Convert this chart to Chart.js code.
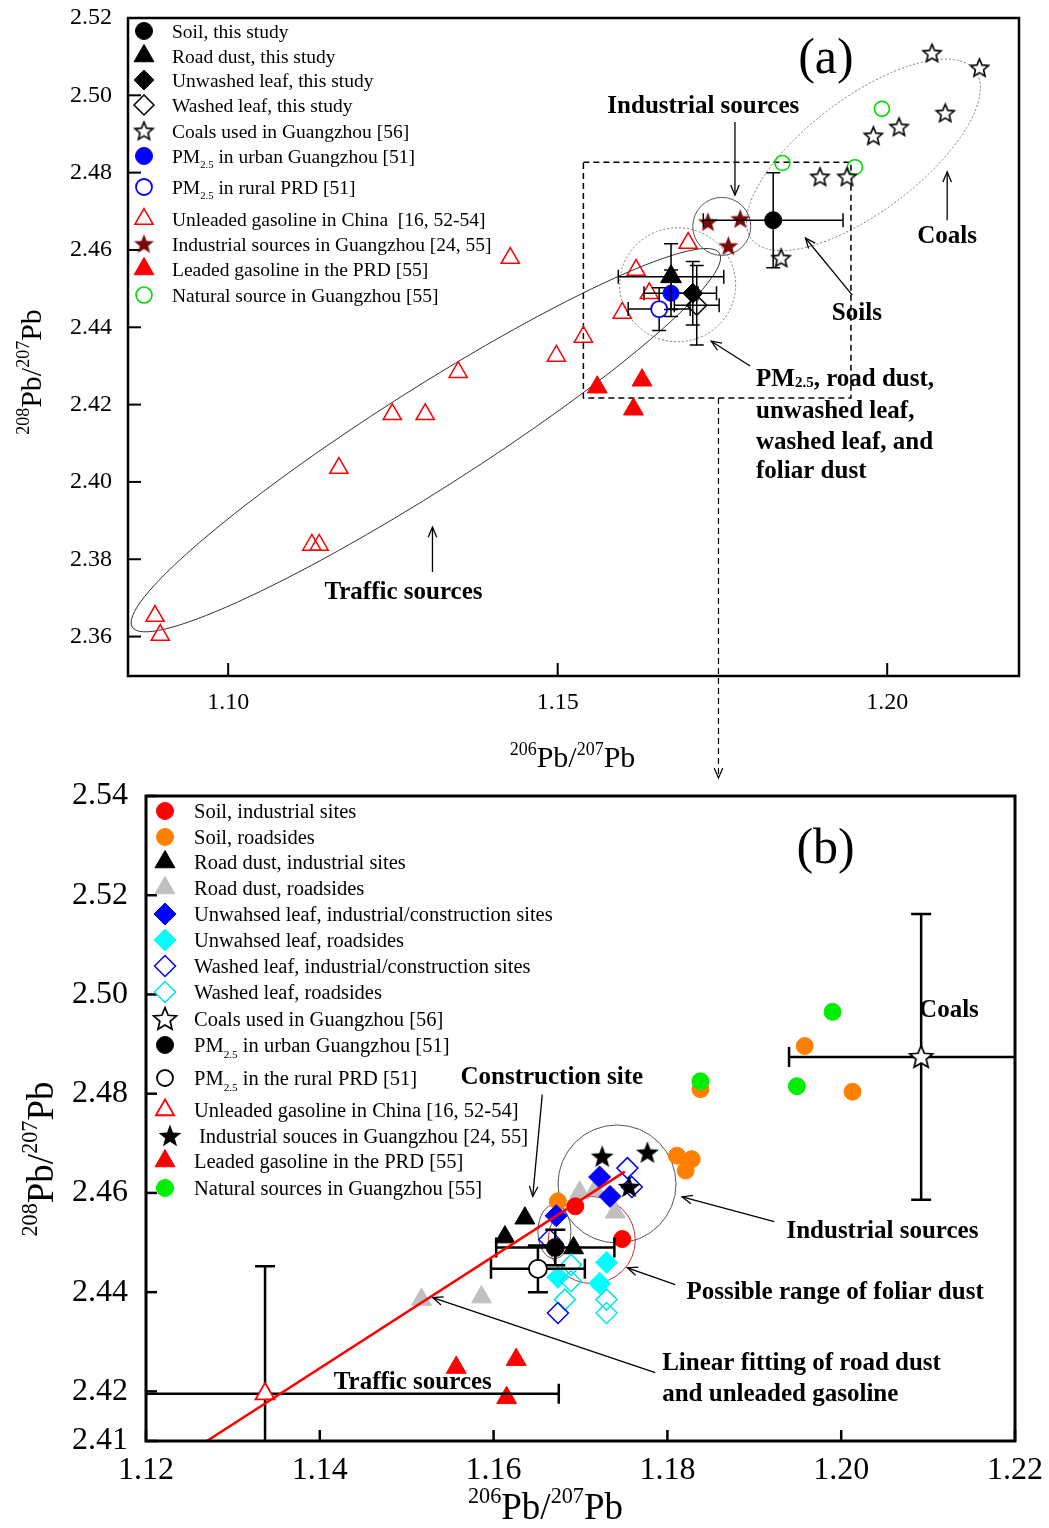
<!DOCTYPE html>
<html>
<head>
<meta charset="utf-8">
<script src="https://cdn.jsdelivr.net/npm/chart.js@4/dist/chart.umd.min.js"></script>
<style>
  body { margin: 0; background: #fff; }
  #wrap { position: relative; width: 1049px; height: 1528px; background: #fff; }
  canvas { position: absolute; left: 0; }
  #chartA { top: 0; }
  #chartB { top: 780px; }
</style>
</head>
<body>
<div id="wrap">
  <canvas id="chartA" width="1049" height="780"></canvas>
  <canvas id="chartB" width="1049" height="748"></canvas>
</div>
<script>
const SERIF = '"Liberation Serif", "Times New Roman", Times, serif';

// ----------------------- panel (a) data ----------------------- //
const aXTicks = [1.10, 1.15, 1.20];
const aYTicks = [2.36, 2.38, 2.40, 2.42, 2.44, 2.46, 2.48, 2.50, 2.52];

// [206Pb/207Pb, 208Pb/207Pb]  and errors [x, y]
const aSoil = [[1.1827, 2.4677]];
const aSoilErr = [[0.0106, 0.0123]];
const aRoadDust = [[1.1672, 2.4531]];
const aRoadDustErr = [[0.0080, 0.0085]];
const aUnwashed = [[1.1705, 2.4488]];
const aUnwashedErr = [[0.0036, 0.0082]];
const aWashed = [[1.1711, 2.4457]];
const aWashedErr = [[0.0034, 0.0103]];
const aPmUrban = [[1.1672, 2.4488]];
const aPmUrbanErr = [[0.0041, 0.0060]];
const aPmRural = [[1.1654, 2.4447]];
const aPmRuralErr = [[0.0047, 0.0055]];
const aCoals = [[1.2068, 2.5109], [1.2140, 2.5071], [1.2088, 2.4954], [1.2018, 2.4918],
  [1.1979, 2.4895], [1.1898, 2.4789], [1.1939, 2.4789], [1.1839, 2.4579]];
const aUnleaded = [[1.0889, 2.3653], [1.0897, 2.3604], [1.1127, 2.3837], [1.1138, 2.3837],
  [1.1168, 2.4036], [1.1249, 2.4175], [1.1299, 2.4175], [1.1349, 2.4284], [1.1428, 2.4579],
  [1.1498, 2.4326], [1.1539, 2.4375], [1.1598, 2.4437], [1.1619, 2.4548], [1.1639, 2.4488],
  [1.1698, 2.4618]];
const aIndustrial = [[1.1728, 2.4672], [1.1777, 2.4680], [1.1759, 2.4610]];
const aLeaded = [[1.1560, 2.4245], [1.1628, 2.4263], [1.1615, 2.4188]];
const aNatural = [[1.1992, 2.4965], [1.1841, 2.4825], [1.1951, 2.4814]];

// ----------------------- panel (b) data ----------------------- //
const bXTicks = [1.12, 1.14, 1.16, 1.18, 1.20, 1.22];
const bYTicks = [2.41, 2.42, 2.44, 2.46, 2.48, 2.50, 2.52, 2.54];

const bSoilInd = [[1.1694, 2.4573], [1.1748, 2.4507]];
const bSoilRoad = [[1.1674, 2.4583], [1.1811, 2.4675], [1.1828, 2.4668], [1.1821, 2.4645],
  [1.1838, 2.4809], [1.1958, 2.4896], [1.2013, 2.4804]];
const bRoadInd = [[1.1636, 2.4549], [1.1613, 2.4511], [1.1692, 2.4489]];
const bRoadRoad = [[1.1517, 2.4385], [1.1586, 2.4390], [1.1699, 2.4601], [1.1717, 2.4606], [1.1740, 2.4561]];
const bUnwashedInd = [[1.1672, 2.4554], [1.1722, 2.4632], [1.1734, 2.4593]];
const bUnwashedRoad = [[1.1730, 2.4460], [1.1674, 2.4430], [1.1722, 2.4418]];
const bWashedInd = [[1.1754, 2.4650], [1.1759, 2.4612], [1.1664, 2.4506], [1.1674, 2.4358]];
const bWashedRoad = [[1.1689, 2.4455], [1.1689, 2.4422], [1.1682, 2.4385], [1.1730, 2.4385], [1.1730, 2.4358]];
const bCoalMean = [[1.2092, 2.4874]];
const bCoalErr = [[0.0152, 0.0288]];
const bPmUrban = [[1.1671, 2.4490]];
const bPmUrbanErr = [[0.0068, 0.0036]];
const bPmRural = [[1.1651, 2.4447]];
const bPmRuralErr = [[0.0054, 0.0047]];
const bUnleadedMean = [[1.1337, 2.4195]];
const bUnleadedErr = [[0.0338, 0.0257]];
const bIndustrial = [[1.1725, 2.4673], [1.1777, 2.4681], [1.1756, 2.4612]];
const bLeaded = [[1.1557, 2.4248], [1.1626, 2.4264], [1.1615, 2.4187]];
const bNatural = [[1.1838, 2.4825], [1.1949, 2.4815], [1.1990, 2.4965]];
const bFitLine = [[1.1270, 2.4100], [1.1751, 2.4643]];

// ----------------------- helpers ----------------------- //
function pts(arr) { return arr.map(p => ({ x: p[0], y: p[1] })); }

// five pointed star as a point image
function starImage(r, fill, stroke, lw, inner) {
  const s = Math.ceil(r * 2 + lw * 2 + 2);
  const c = document.createElement('canvas');
  c.width = s; c.height = s;
  const g = c.getContext('2d');
  g.beginPath();
  for (let i = 0; i < 10; i++) {
    const rr = i % 2 ? r * inner : r;
    const ang = -Math.PI / 2 + i * Math.PI / 5;
    g.lineTo(s / 2 + rr * Math.cos(ang), s / 2 + 0.6 + rr * Math.sin(ang));
  }
  g.closePath();
  if (fill) { g.fillStyle = fill; g.fill(); }
  if (stroke) { g.strokeStyle = stroke; g.lineWidth = lw; g.lineJoin = 'miter'; g.stroke(); }
  return c;
}

function marks(label, arr, style, errors) {
  const d = {
    label: label,
    data: pts(arr),
    showLine: false,
    pointStyle: style.shape,
    pointRadius: style.r,
    pointHoverRadius: style.r,
    pointBackgroundColor: style.fill,
    pointBorderColor: style.stroke,
    pointBorderWidth: style.lw,
    backgroundColor: style.fill,
    borderColor: style.stroke
  };
  if (errors) d.errors = errors;
  return d;
}

function segsOf(label) {
  const i = label.indexOf('PM2.5');
  if (i < 0) return [label];
  return [label.slice(0, i) + 'PM', { sub: '2.5' }, label.slice(i + 5)];
}

function drawRich(ctx, segs, x, y, size, bold, align) {
  const w = bold ? 'bold ' : '';
  const parts = segs.map(s => {
    if (typeof s === 'string') return { t: s, f: size, dy: 0 };
    if (s.sub) return { t: s.sub, f: size * 0.55, dy: size * 0.3 };
    if (s.sup) return { t: s.sup, f: size * 0.6, dy: -size * 0.42 };
    return { t: s.small, f: size * 0.6, dy: size * 0.04 };
  });
  ctx.save();
  ctx.fillStyle = '#000';
  ctx.textBaseline = 'alphabetic';
  ctx.textAlign = 'left';
  let total = 0;
  parts.forEach(p => { ctx.font = w + p.f + 'px ' + SERIF; p.w = ctx.measureText(p.t).width; total += p.w; });
  let cx = align === 'center' ? x - total / 2 : (align === 'right' ? x - total : x);
  const base = y + size * 0.34;
  parts.forEach(p => { ctx.font = w + p.f + 'px ' + SERIF; ctx.fillText(p.t, cx, base + p.dy); cx += p.w; });
  ctx.restore();
}

function drawArrow(ctx, x0, y0, x1, y1, lw, dash) {
  ctx.save();
  ctx.strokeStyle = '#000';
  ctx.lineWidth = lw;
  if (dash) ctx.setLineDash(dash);
  ctx.beginPath(); ctx.moveTo(x0, y0); ctx.lineTo(x1, y1); ctx.stroke();
  ctx.setLineDash([]);
  const ang = Math.atan2(y1 - y0, x1 - x0), L = 11, s = 0.4;
  ctx.beginPath();
  ctx.moveTo(x1 - L * Math.cos(ang - s), y1 - L * Math.sin(ang - s));
  ctx.lineTo(x1, y1);
  ctx.lineTo(x1 - L * Math.cos(ang + s), y1 - L * Math.sin(ang + s));
  ctx.stroke();
  ctx.restore();
}

function px(chart, x, y) {
  return [chart.scales.x.getPixelForValue(x), chart.scales.y.getPixelForValue(y)];
}

// everything that is not a data mark: frame, inward ticks, error bars, shapes, texts, legend
function makeDecor(cfg) {
  return {
    id: 'decor',
    beforeDatasetsDraw(chart) {
      const ctx = chart.ctx;
      (cfg.ellipses || []).forEach(e => {
        const [x, y] = px(chart, e.x, e.y);
        ctx.save();
        ctx.strokeStyle = e.color; ctx.lineWidth = e.lw;
        if (e.dash) ctx.setLineDash(e.dash);
        ctx.beginPath();
        ctx.ellipse(x, y, e.rx, e.ry, (e.rot || 0) * Math.PI / 180, 0, Math.PI * 2);
        ctx.stroke();
        ctx.restore();
      });
      (cfg.rects || []).forEach(r => {
        const [x0, y0] = px(chart, r.x0, r.y0), [x1, y1] = px(chart, r.x1, r.y1);
        ctx.save();
        ctx.strokeStyle = '#000'; ctx.lineWidth = r.lw; ctx.setLineDash(r.dash);
        ctx.strokeRect(x0, y0, x1 - x0, y1 - y0);
        ctx.restore();
      });
    },
    beforeDatasetDraw(chart, args) {
      const ds = chart.data.datasets[args.index];
      if (!ds.errors) return;
      const ctx = chart.ctx, a = chart.chartArea, cap = cfg.cap;
      ctx.save();
      ctx.beginPath(); ctx.rect(a.left, a.top, a.right - a.left, a.bottom - a.top); ctx.clip();
      ctx.strokeStyle = '#000'; ctx.lineWidth = cfg.errLw;
      ds.data.forEach((p, i) => {
        const ex = ds.errors[i][0], ey = ds.errors[i][1];
        const [x, y] = px(chart, p.x, p.y);
        const xl = chart.scales.x.getPixelForValue(p.x - ex), xr = chart.scales.x.getPixelForValue(p.x + ex);
        const yt = chart.scales.y.getPixelForValue(p.y + ey), yb = chart.scales.y.getPixelForValue(p.y - ey);
        ctx.beginPath();
        ctx.moveTo(xl, y); ctx.lineTo(xr, y);
        ctx.moveTo(xl, y - cap); ctx.lineTo(xl, y + cap);
        ctx.moveTo(xr, y - cap); ctx.lineTo(xr, y + cap);
        ctx.moveTo(x, yt); ctx.lineTo(x, yb);
        ctx.moveTo(x - cap, yt); ctx.lineTo(x + cap, yt);
        ctx.moveTo(x - cap, yb); ctx.lineTo(x + cap, yb);
        ctx.stroke();
      });
      ctx.restore();
    },
    afterDatasetsDraw(chart) {
      const ctx = chart.ctx, a = chart.chartArea;
      // inward tick marks
      ctx.save();
      ctx.strokeStyle = '#000'; ctx.lineWidth = cfg.tickLw;
      cfg.xTicks.forEach(v => {
        const x = chart.scales.x.getPixelForValue(v);
        ctx.beginPath(); ctx.moveTo(x, a.bottom); ctx.lineTo(x, a.bottom - cfg.tickLen); ctx.stroke();
      });
      cfg.yTicks.forEach(v => {
        const y = chart.scales.y.getPixelForValue(v);
        ctx.beginPath(); ctx.moveTo(a.left, y); ctx.lineTo(a.left + cfg.tickLen, y); ctx.stroke();
      });
      // frame
      ctx.lineWidth = cfg.frameLw;
      ctx.strokeRect(a.left, a.top, a.right - a.left, a.bottom - a.top);
      ctx.restore();

      (cfg.arrows || []).forEach(r => {
        const [x0, y0] = px(chart, r.x0, r.y0), [x1, y1] = px(chart, r.x1, r.y1);
        drawArrow(ctx, x0, y0, x1, y1, r.lw || 1.3, r.dash);
      });
      (cfg.texts || []).forEach(t => {
        const [x, y] = px(chart, t.x, t.y);
        drawRich(ctx, t.segs, x, y, t.size, t.bold, t.align);
      });

      // legend
      const L = cfg.legend;
      L.rows.forEach(row => {
        const ds = chart.data.datasets.find(d => d.label === row.label);
        const y = a.top + row.dy;
        const mx = a.left + (row.mx || L.mx);
        ctx.save();
        ctx.fillStyle = ds.pointBackgroundColor;
        ctx.strokeStyle = ds.pointBorderColor;
        ctx.lineWidth = ds.pointBorderWidth;
        Chart.helpers.drawPoint(ctx, { pointStyle: ds.pointStyle, radius: row.r || ds.pointRadius, rotation: 0, borderWidth: ds.pointBorderWidth }, mx, y);
        ctx.restore();
        drawRich(ctx, segsOf(row.label), a.left + (row.tx || L.tx), y, L.size, false, 'left');
      });

      // axis titles
      const T = cfg.titles;
      const cx = (a.left + a.right) / 2;
      drawRich(ctx, [{ sup: '206' }, 'Pb/', { sup: '207' }, 'Pb'], cx + T.xdx, T.xy, T.size, false, 'center');
      ctx.save();
      ctx.translate(T.yx, T.yy);
      ctx.rotate(-Math.PI / 2);
      drawRich(ctx, [{ sup: '208' }, 'Pb/', { sup: '207' }, 'Pb'], 0, 0, T.size, false, 'center');
      ctx.restore();
    }
  };
}

function axes(xMin, xMax, yMin, yMax, xTicks, yTicks, o) {
  return {
    x: {
      type: 'linear', min: xMin, max: xMax,
      grid: { display: false, drawTicks: false }, border: { display: false },
      afterBuildTicks: s => { s.ticks = xTicks.map(v => ({ value: v })); },
      afterFit: s => { s.height = o.xH; s.paddingLeft = 0; s.paddingRight = 0; },
      ticks: { font: { family: SERIF, size: o.font }, color: '#000', padding: o.xPad, autoSkip: false, maxRotation: 0,
        callback: v => v.toFixed(2) }
    },
    y: {
      type: 'linear', min: yMin, max: yMax,
      grid: { display: false, drawTicks: false }, border: { display: false },
      afterBuildTicks: s => { s.ticks = yTicks.map(v => ({ value: v })); },
      afterFit: s => { s.width = o.yW; s.paddingTop = 0; s.paddingBottom = 0; },
      ticks: { font: { family: SERIF, size: o.font }, color: '#000', padding: o.yPad, autoSkip: false,
        callback: v => v.toFixed(2) }
    }
  };
}

// ----------------------- panel (a) ----------------------- //
const darkRed = '#7a0a0a';
const aDatasets = [
  marks('Soil, this study', aSoil, { shape: 'circle', r: 8.5, fill: '#000', stroke: '#000', lw: 1 }, aSoilErr),
  marks('Road dust, this study', aRoadDust, { shape: 'triangle', r: 12, fill: '#000', stroke: '#000', lw: 1 }, aRoadDustErr),
  marks('PM2.5 in urban Guangzhou [51]', aPmUrban, { shape: 'circle', r: 8, fill: '#0000ff', stroke: '#0000ff', lw: 1 }, aPmUrbanErr),
  marks('Unwashed leaf, this study', aUnwashed, { shape: 'rectRot', r: 10, fill: '#000', stroke: '#000', lw: 1 }, aUnwashedErr),
  marks('Washed leaf, this study', aWashed, { shape: 'rectRot', r: 10, fill: 'rgba(255,255,255,0)', stroke: '#000', lw: 1.5 }, aWashedErr),
  marks('PM2.5 in rural PRD [51]', aPmRural, { shape: 'circle', r: 8, fill: '#fff', stroke: '#0000ff', lw: 1.8 }, aPmRuralErr),
  marks('Industrial sources in Guangzhou [24, 55]', aIndustrial, { shape: starImage(10.5, darkRed, null, 0, 0.42), r: 10, fill: darkRed, stroke: darkRed, lw: 0 }),
  marks('Leaded gasoline in the PRD [55]', aLeaded, { shape: 'triangle', r: 11.5, fill: '#ff0000', stroke: '#ff0000', lw: 1 }),
  marks('Unleaded gasoline in China  [16, 52-54]', aUnleaded, { shape: 'triangle', r: 10.5, fill: 'rgba(255,255,255,0)', stroke: '#ff0000', lw: 1.5 }),
  marks('Coals used in Guangzhou [56]', aCoals, { shape: starImage(9.5, '#fff', '#000', 1.6, 0.45), r: 9, fill: '#fff', stroke: '#000', lw: 1 }),
  marks('Natural source in Guangzhou [55]', aNatural, { shape: 'circle', r: 7.5, fill: 'rgba(255,255,255,0)', stroke: '#00dd00', lw: 1.6 })
];

const aDecor = {
  cap: 7, errLw: 1.5, tickLw: 2, tickLen: 13, frameLw: 2.5,
  xTicks: aXTicks, yTicks: aYTicks,
  ellipses: [
    { x: 1.1964, y: 2.4846, rx: 140, ry: 57, rot: -37, color: '#777', dash: [2, 2], lw: 1 },
    { x: 1.1300, y: 2.4108, rx: 348, ry: 50, rot: -32.5, color: '#333', lw: 1 },
    { x: 1.1749, y: 2.4661, rx: 29, ry: 29, color: '#555', lw: 1 },
    { x: 1.1682, y: 2.4510, rx: 58, ry: 57, color: '#777', dash: [2, 2], lw: 1 }
  ],
  rects: [{ x0: 1.1539, y0: 2.4827, x1: 1.1945, y1: 2.4217, dash: [6, 4], lw: 1.5 }],
  arrows: [
    { x0: 1.1769, y0: 2.4931, x1: 1.1769, y1: 2.4742 },
    { x0: 1.2091, y0: 2.4677, x1: 1.2091, y1: 2.4802 },
    { x0: 1.1947, y0: 2.4483, x1: 1.1876, y1: 2.4631 },
    { x0: 1.1310, y0: 2.3767, x1: 1.1310, y1: 2.3883 },
    { x0: 1.1792, y0: 2.4300, x1: 1.1733, y1: 2.4364 },
    { x0: 1.1744, y0: 2.4217, x1: 1.1744, y1: 2.3234, dash: [6, 4], lw: 1.2 }
  ],
  texts: [
    { x: 1.1907, y: 2.5102, segs: ['(a)'], size: 50, align: 'center' },
    { x: 1.1721, y: 2.4975, segs: ['Industrial sources'], size: 25, bold: true, align: 'center' },
    { x: 1.2091, y: 2.4639, segs: ['Coals'], size: 25, bold: true, align: 'center' },
    { x: 1.1954, y: 2.4442, segs: ['Soils'], size: 25, bold: true, align: 'center' },
    { x: 1.1266, y: 2.3720, segs: ['Traffic sources'], size: 25, bold: true, align: 'center' },
    { x: 1.1801, y: 2.4269, segs: ['PM', { small: '2.5' }, ', road dust,'], size: 25, bold: true, align: 'left' },
    { x: 1.1801, y: 2.4188, segs: ['unwashed leaf,'], size: 25, bold: true, align: 'left' },
    { x: 1.1801, y: 2.4108, segs: ['washed leaf, and'], size: 25, bold: true, align: 'left' },
    { x: 1.1801, y: 2.4031, segs: ['foliar dust'], size: 25, bold: true, align: 'left' }
  ],
  legend: {
    mx: 16, tx: 44, size: 19.5,
    rows: [
      { label: 'Soil, this study', dy: 13 },
      { label: 'Road dust, this study', dy: 38, r: 11.5 },
      { label: 'Unwashed leaf, this study', dy: 62 },
      { label: 'Washed leaf, this study', dy: 87 },
      { label: 'Coals used in Guangzhou [56]', dy: 113 },
      { label: 'PM2.5 in urban Guangzhou [51]', dy: 138, r: 8.5 },
      { label: 'PM2.5 in rural PRD [51]', dy: 169 },
      { label: 'Unleaded gasoline in China  [16, 52-54]', dy: 201 },
      { label: 'Industrial sources in Guangzhou [24, 55]', dy: 226 },
      { label: 'Leaded gasoline in the PRD [55]', dy: 251 },
      { label: 'Natural source in Guangzhou [55]', dy: 277, r: 8 }
    ]
  },
  titles: { size: 30, xdx: -1, xy: 757, yx: 31, yy: 372 }
};

new Chart(document.getElementById('chartA'), {
  type: 'scatter',
  data: { datasets: aDatasets },
  options: {
    responsive: false, animation: false, events: [],
    layout: { padding: { top: 18, right: 30, left: 0, bottom: 0 } },
    plugins: { legend: { display: false }, tooltip: { enabled: false } },
    scales: axes(1.0848, 1.2200, 2.3498, 2.52, aXTicks, aYTicks, { font: 24, xH: 104, yW: 128, xPad: 12, yPad: 16 })
  },
  plugins: [makeDecor(aDecor)]
});

// ----------------------- panel (b) ----------------------- //
const bDatasets = [
  Object.assign(marks('Linear fitting', bFitLine, { shape: 'circle', r: 0, fill: '#ff0000', stroke: '#ff0000', lw: 0 }),
    { showLine: true, borderWidth: 2.5, borderColor: '#ff0000' }),
  marks('Industrial souces in Guangzhou [24, 55]', bIndustrial, { shape: starImage(12, '#000', null, 0, 0.42), r: 12, fill: '#000', stroke: '#000', lw: 0 }),
  marks('PM2.5 in urban Guangzhou [51]', bPmUrban, { shape: 'circle', r: 9, fill: '#000', stroke: '#000', lw: 1 }, bPmUrbanErr),
  marks('PM2.5 in the rural PRD [51]', bPmRural, { shape: 'circle', r: 9, fill: '#fff', stroke: '#000', lw: 1.8 }, bPmRuralErr),
  marks('Unleaded gasoline in China [16, 52-54]', bUnleadedMean, { shape: 'triangle', r: 11, fill: '#fff', stroke: '#ff0000', lw: 1.8 }, bUnleadedErr),
  marks('Coals used in Guangzhou [56]', bCoalMean, { shape: starImage(12, '#fff', '#000', 1.7, 0.45), r: 12, fill: '#fff', stroke: '#000', lw: 1.5 }, bCoalErr),
  marks('Washed leaf, industrial/construction sites', bWashedInd, { shape: 'rectRot', r: 10.5, fill: 'rgba(255,255,255,0)', stroke: '#0000ff', lw: 1.5 }),
  marks('Washed leaf, roadsides', bWashedRoad, { shape: 'rectRot', r: 10.5, fill: 'rgba(255,255,255,0)', stroke: '#00e5ee', lw: 1.5 }),
  marks('Unwahsed leaf, industrial/construction sites', bUnwashedInd, { shape: 'rectRot', r: 11, fill: '#0000ff', stroke: '#0000ff', lw: 1 }),
  marks('Unwahsed leaf, roadsides', bUnwashedRoad, { shape: 'rectRot', r: 11, fill: '#00ffff', stroke: '#00ffff', lw: 1 }),
  marks('Road dust, industrial sites', bRoadInd, { shape: 'triangle', r: 11.5, fill: '#000', stroke: '#000', lw: 1 }),
  marks('Soil, industrial sites', bSoilInd, { shape: 'circle', r: 8.5, fill: '#ff0000', stroke: '#ff0000', lw: 1 }),
  marks('Road dust, roadsides', bRoadRoad, { shape: 'triangle', r: 11.5, fill: '#c0c0c0', stroke: '#c0c0c0', lw: 1 }),
  marks('Natural sources in Guangzhou [55]', bNatural, { shape: 'circle', r: 8.5, fill: '#00ee00', stroke: '#00ee00', lw: 1 }),
  marks('Soil, roadsides', bSoilRoad, { shape: 'circle', r: 8.5, fill: '#ff8000', stroke: '#ff8000', lw: 1 }),
  marks('Leaded gasoline in the PRD [55]', bLeaded, { shape: 'triangle', r: 11.5, fill: '#ff0000', stroke: '#ff0000', lw: 1 })
];

const bDecor = {
  cap: 10, errLw: 2.5, tickLw: 2.5, tickLen: 11, frameLw: 3,
  xTicks: bXTicks, yTicks: bYTicks,
  ellipses: [
    { x: 1.1670, y: 2.4522, rx: 16.5, ry: 27, color: '#555', lw: 1 },
    { x: 1.1742, y: 2.4618, rx: 59, ry: 59, color: '#555', lw: 1 },
    { x: 1.1713, y: 2.4505, rx: 43.5, ry: 43.5, color: '#c03030', lw: 1 }
  ],
  arrows: [
    { x0: 1.1656, y0: 2.4798, x1: 1.1645, y1: 2.4593 },
    { x0: 1.1923, y0: 2.4542, x1: 1.1817, y1: 2.4592 },
    { x0: 1.1809, y0: 2.4415, x1: 1.1754, y1: 2.4449 },
    { x0: 1.1786, y0: 2.4238, x1: 1.1530, y1: 2.4389 }
  ],
  texts: [
    { x: 1.1982, y: 2.5299, segs: ['(b)'], size: 50, align: 'center' },
    { x: 1.2124, y: 2.4971, segs: ['Coals'], size: 25, bold: true, align: 'center' },
    { x: 1.1667, y: 2.4836, segs: ['Construction site'], size: 25, bold: true, align: 'center' },
    { x: 1.1937, y: 2.4526, segs: ['Industrial sources'], size: 25, bold: true, align: 'left' },
    { x: 1.1822, y: 2.4403, segs: ['Possible range of foliar dust'], size: 25, bold: true, align: 'left' },
    { x: 1.1794, y: 2.4260, segs: ['Linear fitting of road dust'], size: 25, bold: true, align: 'left' },
    { x: 1.1794, y: 2.4198, segs: ['and unleaded gasoline'], size: 25, bold: true, align: 'left' },
    { x: 1.1507, y: 2.4222, segs: ['Traffic sources'], size: 25, bold: true, align: 'center' }
  ],
  legend: {
    mx: 19, tx: 48, size: 20.5,
    rows: [
      { label: 'Soil, industrial sites', dy: 15 },
      { label: 'Soil, roadsides', dy: 41 },
      { label: 'Road dust, industrial sites', dy: 66 },
      { label: 'Road dust, roadsides', dy: 92 },
      { label: 'Unwahsed leaf, industrial/construction sites', dy: 118 },
      { label: 'Unwahsed leaf, roadsides', dy: 144 },
      { label: 'Washed leaf, industrial/construction sites', dy: 170 },
      { label: 'Washed leaf, roadsides', dy: 196 },
      { label: 'Coals used in Guangzhou [56]', dy: 223 },
      { label: 'PM2.5 in urban Guangzhou [51]', dy: 249, r: 8.5 },
      { label: 'PM2.5 in the rural PRD [51]', dy: 282, r: 8 },
      { label: 'Unleaded gasoline in China [16, 52-54]', dy: 314, r: 10.5 },
      { label: 'Industrial souces in Guangzhou [24, 55]', dy: 340, mx: 24, tx: 53 },
      { label: 'Leaded gasoline in the PRD [55]', dy: 365 },
      { label: 'Natural sources in Guangzhou [55]', dy: 392 }
    ]
  },
  titles: { size: 37, xdx: -35, xy: 726, yx: 40, yy: 379 }
};

new Chart(document.getElementById('chartB'), {
  type: 'scatter',
  data: { datasets: bDatasets },
  options: {
    responsive: false, animation: false, events: [],
    layout: { padding: { top: 16, right: 34, left: 0, bottom: 0 } },
    plugins: { legend: { display: false }, tooltip: { enabled: false } },
    scales: axes(1.12, 1.22, 2.41, 2.54, bXTicks, bYTicks, { font: 32, xH: 87, yW: 146, xPad: 10, yPad: 18 })
  },
  plugins: [makeDecor(bDecor)]
});
</script>
</body>
</html>
